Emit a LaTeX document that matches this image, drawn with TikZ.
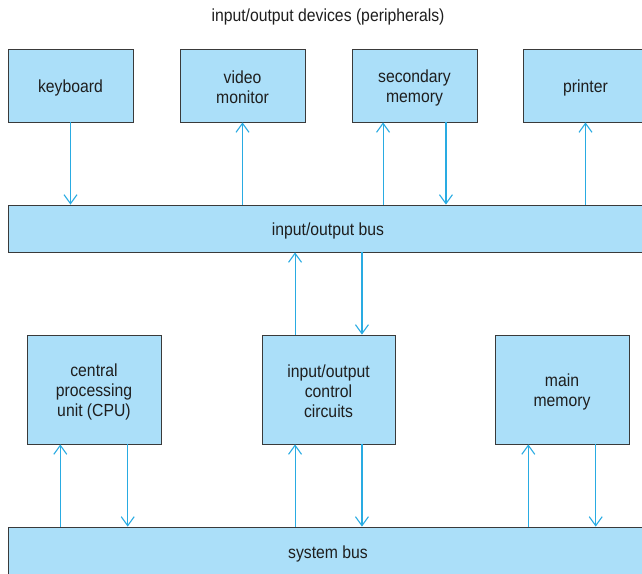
\documentclass[tikz,border=0pt]{standalone}
\usepackage{fontspec}
\setmainfont{Liberation Sans}[FakeStretch=0.9]
\usetikzlibrary{arrows.meta,calc}
\definecolor{boxfill}{HTML}{ABDFF9}
\definecolor{boxline}{HTML}{3A3A3A}
\definecolor{arrowc}{HTML}{29ABE2}
\definecolor{txt}{HTML}{1E1E1E}
\newcommand{\lnstrut}{\rule{0pt}{17pt}}
\begin{document}
\begin{tikzpicture}[x=1pt,y=-1pt,
  box/.style={draw=boxline, line width=0.8pt, fill=boxfill, inner sep=0pt,
    align=center, text=txt, font=\fontsize{17.5}{20}\selectfont},
  dev/.style={box, minimum width=125pt, minimum height=73pt},
  unit/.style={box, minimum width=134pt, minimum height=109pt},
  bus/.style={box, minimum width=640pt},
  arr/.style={draw=arrowc, line width=1.1pt, -{Straight Barb[length=9pt,width=13pt,line width=1.1pt]}},
  lbl/.style={text=txt, font=\fontsize{17.5}{20}\selectfont, inner sep=0pt}]
\useasboundingbox (0,0) rectangle (642,573);
\clip (0,0) rectangle (642,573);

\node[lbl] (title) at (328,16.5) {input/output devices (peripherals)};

\node[dev] (kb) at (70.5,85.5) {\rule{0pt}{17.5pt}keyboard};
\node[dev] (vm) at (242.5,85.5) {\lnstrut video\\monitor};
\node[dev] (sm) at (414.5,85.5) {\lnstrut secondary\\memory};
\node[dev] (pr) at (585.5,85.5) {\rule{0pt}{17.5pt}printer};

\node[bus, minimum height=47pt] (iob) at (328,228.5) {\rule{0pt}{17.5pt}input/output bus};

\node[unit] (cpu) at (94,389.5) {\lnstrut central\\processing\\unit (CPU)};
\node[unit, minimum width=133pt] (ioc) at (328.5,389.5) {\lnstrut input/output\\control\\circuits};
\node[unit] (mm) at (562,389.5) {\lnstrut main\\memory};

\node[bus, minimum height=50pt] (sysb) at (328,552) {\rule{0pt}{17.5pt}system bus};

% devices <-> io bus
\draw[arr] (kb.south) -- (kb.south |- iob.north);
\draw[arr] (vm.south |- iob.north) -- (vm.south);
\coordinate (smL) at ($(sm.south west)!0.25!(sm.south east)$);
\coordinate (smR) at ($(sm.south west)!0.75!(sm.south east)$);
\draw[arr] (smL |- iob.north) -- (smL);
\draw[arr] (smR) -- (smR |- iob.north);
\draw[arr] (pr.south |- iob.north) -- (pr.south);

% io bus <-> io control
\coordinate (iocTL) at ($(ioc.north west)!0.25!(ioc.north east)$);
\coordinate (iocTR) at ($(ioc.north west)!0.75!(ioc.north east)$);
\draw[arr] (iocTL) -- (iocTL |- iob.south);
\draw[arr] (iocTR |- iob.south) -- (iocTR);

% units <-> system bus
\coordinate (cpuL) at ($(cpu.south west)!0.25!(cpu.south east)$);
\coordinate (cpuR) at ($(cpu.south west)!0.75!(cpu.south east)$);
\draw[arr] (cpuL |- sysb.north) -- (cpuL);
\draw[arr] (cpuR) -- (cpuR |- sysb.north);

\coordinate (iocBL) at ($(ioc.south west)!0.25!(ioc.south east)$);
\coordinate (iocBR) at ($(ioc.south west)!0.75!(ioc.south east)$);
\draw[arr] (iocBL |- sysb.north) -- (iocBL);
\draw[arr] (iocBR) -- (iocBR |- sysb.north);

\coordinate (mmL) at ($(mm.south west)!0.25!(mm.south east)$);
\coordinate (mmR) at ($(mm.south west)!0.75!(mm.south east)$);
\draw[arr] (mmL |- sysb.north) -- (mmL);
\draw[arr] (mmR) -- (mmR |- sysb.north);
\end{tikzpicture}
\end{document}
